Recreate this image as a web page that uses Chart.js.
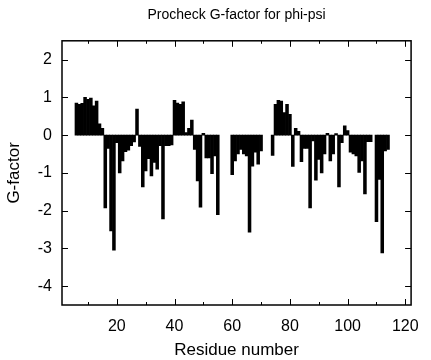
<!DOCTYPE html>
<html>
<head>
<meta charset="utf-8">
<script src="https://cdn.jsdelivr.net/npm/chart.js@4/dist/chart.umd.min.js"></script>
<style>
  html, body { margin: 0; padding: 0; background: #fff; }
  #wrap { width: 431px; height: 360px; }
</style>
</head>
<body>
<div id="wrap"><canvas id="gChart" width="431" height="360"></canvas></div>
<script>
// residue numbers along the chain
const residues = [
  6, 7, 8, 9, 10, 11, 12, 13, 14, 15, 16, 17, 18, 19, 20, 21, 22, 23, 24, 25,
  26, 27, 28, 29, 30, 31, 32, 33, 34, 35, 36, 37, 38, 39, 40, 41, 42, 43, 44, 45,
  46, 47, 48, 49, 50, 51, 52, 53, 54, 55, 56, 57, 58, 59, 60, 61, 62, 63, 64, 65,
  66, 67, 68, 69, 70, 71, 72, 73, 74, 75, 76, 77, 78, 79, 80, 81, 82, 83, 84, 85,
  86, 87, 88, 89, 90, 91, 92, 93, 94, 95, 96, 97, 98, 99, 100, 101, 102, 103, 104, 105,
  106, 107, 108, 109, 110, 111, 112, 113, 114
];

// G-factor per residue (null = no value)
const gFactor = [
  0.85, 0.82, 0.84, 1.0, 0.95, 0.98, 0.78, 0.9, 0.3, 0.18, -1.93, -0.35, -2.54, -3.05, -0.2, -1.0, -0.68, -0.44, -0.4, -0.28,
  -0.18, 0.69, -0.3, -1.37, -0.95, -0.62, -1.08, -0.72, -0.9, -0.28, -2.22, -0.28, -0.28, -0.26, 0.92, 0.85, 0.82, 0.88, 0.07, 0.18,
  0.4, -0.38, -1.21, -1.91, 0.05, -0.6, -0.6, -1.02, -0.55, -2.11, null, null, null, null, -1.05, -0.68, -0.5, -0.38, -0.5, -0.55,
  -2.57, -0.82, -0.45, -0.77, -0.42, null, null, null, -0.54, 0.82, 0.92, 0.9, 0.6, 0.82, 0.55, -0.83, 0.18, 0.1, -0.7, -0.35,
  -0.35, -1.93, -0.15, -1.19, -0.64, -1.0, -0.5, 0.05, -0.68, -0.5, 0.04, -1.37, -0.2, 0.25, 0.12, -0.45, -0.5, -0.55, -0.99, -0.68,
  -1.56, -0.17, -0.17, null, -2.29, -1.17, -3.12, -0.42, -0.38
];

const xMajorTicks = [20, 40, 60, 80, 100, 120];
const xMinorTicks = [10, 30, 50, 70, 90, 110];
const yTicks = [-4, -3, -2, -1, 0, 1, 2];

Chart.defaults.font.family = "'Liberation Sans', Arial, sans-serif";
Chart.defaults.color = "#000";

// frame on all four sides with inward tick marks (gnuplot look)
const framePlugin = {
  id: "frame",
  afterDraw(chart) {
    const { ctx, chartArea: a, scales } = chart;
    ctx.save();
    ctx.strokeStyle = "#000";
    ctx.lineWidth = 1.5;
    ctx.strokeRect(a.left, a.top, a.right - a.left, a.bottom - a.top);
    ctx.lineWidth = 1;
    ctx.beginPath();
    const xt = (v, len) => {
      const px = Math.round(scales.x.getPixelForValue(v)) + 0.5;
      ctx.moveTo(px, a.bottom); ctx.lineTo(px, a.bottom - len);
      ctx.moveTo(px, a.top); ctx.lineTo(px, a.top + len);
    };
    xMajorTicks.forEach(v => xt(v, 6));
    xMinorTicks.forEach(v => xt(v, 3));
    yTicks.forEach(v => {
      const py = Math.round(scales.y.getPixelForValue(v)) + 0.5;
      ctx.moveTo(a.left, py); ctx.lineTo(a.left + 6, py);
      ctx.moveTo(a.right, py); ctx.lineTo(a.right - 6, py);
    });
    ctx.stroke();
    ctx.restore();
  }
};

const ctx = document.getElementById("gChart").getContext("2d");

const gChart = new Chart(ctx, {
  type: "bar",
  data: {
    datasets: [{
      label: "G-factor",
      data: residues.map((r, i) => ({ x: r, y: gFactor[i] })),
      backgroundColor: "#000",
      borderWidth: 0,
      barPercentage: 1,
      categoryPercentage: 1,
    }],
  },
  options: {
    responsive: false,
    animation: false,
    devicePixelRatio: 1,
    layout: { padding: { top: 0, right: 17, bottom: 0, left: 0 } },
    plugins: {
      legend: { display: false },
      tooltip: { enabled: false },
      title: {
        display: true,
        text: "Procheck G-factor for phi-psi",
        fullSize: false,
        font: { size: 14, weight: "normal", lineHeight: 1.2 },
        padding: { top: 7, bottom: 17 },
      },
    },
    scales: {
      x: {
        type: "linear",
        offset: false,
        min: 1,
        max: 122,
        grid: { display: false, drawTicks: false },
        border: { display: false },
        afterBuildTicks: s => { s.ticks = xMajorTicks.map(v => ({ value: v })); },
        afterFit: s => { s.height = 55; },
        ticks: { autoSkip: false, maxRotation: 0, padding: 12, font: { size: 16 } },
        title: {
          display: true,
          text: "Residue number",
          font: { size: 17, lineHeight: 1 },
          padding: { top: 0, bottom: 1 },
        },
      },
      y: {
        min: -4.5,
        max: 2.5,
        grid: { display: false, drawTicks: false },
        border: { display: false },
        afterBuildTicks: s => { s.ticks = yTicks.map(v => ({ value: v })); },
        afterFit: s => { s.width = 62; },
        ticks: { padding: 10, font: { size: 16 } },
        title: {
          display: true,
          text: "G-factor",
          font: { size: 17, lineHeight: 1 },
          padding: { top: 6, bottom: 0 },
        },
      },
    },
  },
  plugins: [framePlugin],
});
</script>
</body>
</html>
